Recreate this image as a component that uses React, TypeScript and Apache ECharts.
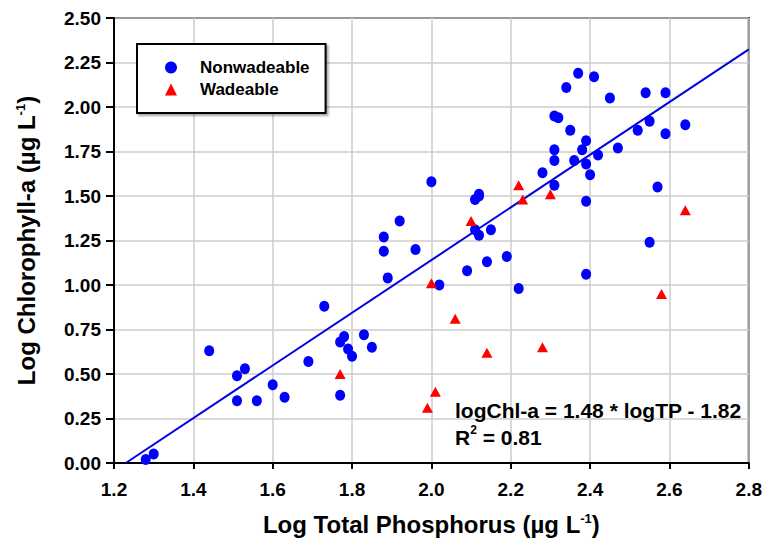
import React, { useEffect, useRef } from "react";
import * as echarts from "echarts";

const xTicks = [1.2, 2.8, 0.2];
const yTicks = [0, 2.5, 0.25];

const nonwadeable: number[][] = [
  [1.28, 0.02], [1.30, 0.05], [1.44, 0.63], [1.51, 0.49], [1.53, 0.53], [1.51, 0.35],
  [1.56, 0.35], [1.60, 0.44], [1.63, 0.37], [1.69, 0.57], [1.77, 0.68], [1.78, 0.71],
  [1.79, 0.64], [1.80, 0.60], [1.83, 0.72], [1.85, 0.65], [1.77, 0.38],
  [2.00, 1.58], [2.31, 1.56], [2.57, 1.55], [2.12, 1.51], [2.12, 1.50], [2.11, 1.48],
  [2.39, 1.47], [1.92, 1.36], [1.88, 1.27], [1.88, 1.19], [1.96, 1.20], [2.11, 1.31],
  [2.12, 1.28], [2.15, 1.31], [2.19, 1.16], [2.14, 1.13], [2.09, 1.08], [1.89, 1.04],
  [2.55, 1.24], [2.39, 1.06], [2.02, 1.00], [2.22, 0.98], [1.73, 0.88],
  [2.37, 2.19], [2.41, 2.17], [2.34, 2.11], [2.45, 2.05], [2.54, 2.08], [2.59, 2.08],
  [2.31, 1.95], [2.32, 1.94], [2.35, 1.87], [2.64, 1.90], [2.55, 1.92], [2.52, 1.87],
  [2.59, 1.85], [2.39, 1.81], [2.38, 1.76], [2.31, 1.76], [2.47, 1.77], [2.42, 1.73],
  [2.36, 1.70], [2.31, 1.70], [2.39, 1.68], [2.28, 1.63], [2.40, 1.62],
];

const wadeable: number[][] = [
  [1.77, 0.50], [2.01, 0.40], [1.99, 0.31], [2.14, 0.62], [2.28, 0.65], [2.22, 1.56],
  [2.30, 1.51], [2.23, 1.48], [2.64, 1.42], [2.10, 1.36], [2.00, 1.01], [2.58, 0.95],
  [2.06, 0.81],
];

const slope = 1.48;
const intercept = -1.82;
const fitX = [-intercept / slope, 2.8];

const FONT = "Arial, 'Liberation Sans', sans-serif";

export default function App() {
  const ref = useRef<HTMLDivElement>(null);
  useEffect(() => {
    if (!ref.current) return;
    const chart = echarts.init(ref.current, null, { renderer: "svg" });
    const fitLine = fitX.map((x) => [x, slope * x + intercept]);
    const supStyle = { fontFamily: FONT, fontWeight: "bold", fontSize: 13, verticalAlign: "top", padding: [0, 0, 11, 0] };
    chart.setOption({
      animation: false,
      backgroundColor: "#fff",
      grid: {
        left: 114, right: 16, top: 18, bottom: 80,
        show: true, borderColor: "#000", borderWidth: 2,
      },
      legend: {
        data: [
          { name: "Nonwadeable", icon: "circle" },
          { name: "Wadeable", icon: "triangle" },
        ],
        orient: "vertical",
        left: 137,
        top: 44,
        itemWidth: 12,
        itemHeight: 12,
        itemGap: 3,
        padding: [14, 16, 14, 28],
        backgroundColor: "#fff",
        borderColor: "#000",
        borderWidth: 2,
        shadowColor: "rgba(0,0,0,0.35)",
        shadowOffsetX: 2,
        shadowOffsetY: 2,
        shadowBlur: 2,
        textStyle: {
          fontFamily: FONT, fontWeight: "bold", fontSize: 17, color: "#000",
          padding: [0, 0, 0, 18], lineHeight: 19,
        },
      },
      xAxis: {
        type: "value",
        min: xTicks[0], max: xTicks[1], interval: xTicks[2],
        name: "Log Total Phosphorus (µg L{sup|-1})",
        nameLocation: "middle",
        nameGap: 49,
        nameTextStyle: {
          fontFamily: FONT, fontWeight: "bold", fontSize: 24, color: "#000",
          rich: { sup: supStyle },
        },
        axisLine: { show: true, onZero: false, lineStyle: { color: "#000", width: 2 } },
        axisTick: { show: true, length: 6, lineStyle: { color: "#000", width: 2 } },
        axisLabel: {
          fontFamily: FONT, fontWeight: "bold", fontSize: 19, color: "#000", margin: 17,
          formatter: (v: number) => v.toFixed(1),
        },
        splitLine: { show: true, lineStyle: { color: "#cccccc", width: 1.5 } },
      },
      yAxis: {
        type: "value",
        min: yTicks[0], max: yTicks[1], interval: yTicks[2],
        name: "Log Chlorophyll-a (µg L{sup|-1})",
        nameLocation: "middle",
        nameGap: 76,
        nameTextStyle: {
          fontFamily: FONT, fontWeight: "bold", fontSize: 24, color: "#000",
          rich: { sup: supStyle },
        },
        axisLine: { show: true, onZero: false, lineStyle: { color: "#000", width: 2 } },
        axisTick: { show: true, length: 8, lineStyle: { color: "#000", width: 2 } },
        axisLabel: {
          fontFamily: FONT, fontWeight: "bold", fontSize: 19, color: "#000", margin: 13,
          formatter: (v: number) => v.toFixed(2),
        },
        splitLine: { show: true, lineStyle: { color: "#cccccc", width: 1.5 } },
      },
      series: [
        {
          name: "Fit",
          type: "line",
          data: fitLine,
          showSymbol: false,
          symbol: "none",
          lineStyle: { color: "#0000e6", width: 2 },
          z: 1,
        },
        {
          name: "Nonwadeable",
          type: "scatter",
          data: nonwadeable,
          symbol: "circle",
          symbolSize: [10, 11],
          itemStyle: { color: "#0000ff", opacity: 1 },
          z: 3,
        },
        {
          name: "Wadeable",
          type: "scatter",
          data: wadeable,
          symbol: "triangle",
          symbolSize: [11, 10],
          itemStyle: { color: "#ff0000", opacity: 1 },
          z: 4,
        },
      ],
      graphic: [
        {
          type: "text",
          left: 455,
          top: 397,
          z: 10,
          style: {
            text: "logChl-a = 1.48 * logTP - 1.82\nR{sup|2} = 0.81",
            fontFamily: FONT,
            fontWeight: "bold",
            fontSize: 21,
            lineHeight: 27,
            fill: "#000",
            rich: {
              sup: { fontFamily: FONT, fontWeight: "bold", fontSize: 12, verticalAlign: "top", padding: [0, 0, 10, 0], fill: "#000" },
            },
          },
        },
      ],
    });
    return () => chart.dispose();
  }, []);
  return <div ref={ref} style={{ position: "absolute", left: 0, top: 0, width: 765, height: 543 }} />;
}
